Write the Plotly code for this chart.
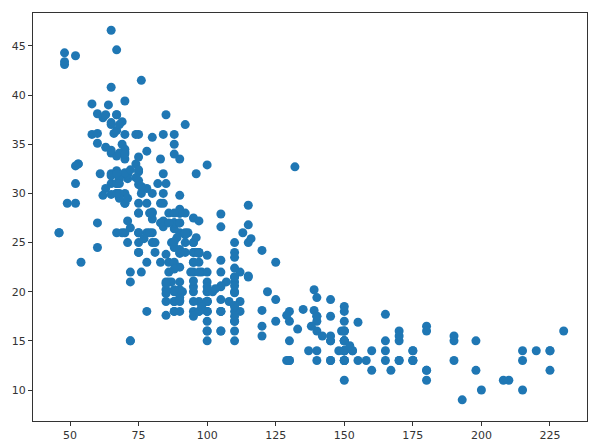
import plotly.graph_objects as go

# horsepower / mpg pairs
horsepower = [130, 165, 150, 150, 140, 198, 220, 215, 225, 190, 170, 160, 150, 225, 95, 95, 97, 85, 88, 46,
              87, 90, 95, 113, 90, 215, 200, 210, 193, 88, 90, 95, 100, 105, 100, 88, 100, 165, 175, 153,
              150, 180, 170, 175, 110, 72, 100, 88, 86, 90, 70, 76, 65, 69, 60, 70, 95, 80, 54, 90,
              86, 165, 175, 150, 153, 150, 208, 155, 160, 190, 97, 150, 130, 140, 150, 112, 76, 87, 69, 86,
              92, 97, 80, 88, 175, 150, 145, 137, 150, 198, 150, 158, 150, 215, 225, 175, 105, 100, 100, 88,
              95, 46, 150, 167, 170, 180, 100, 88, 72, 94, 90, 85, 107, 90, 145, 230, 49, 75, 91, 112,
              150, 110, 122, 180, 95, 100, 100, 67, 80, 65, 75, 100, 110, 105, 140, 150, 150, 140, 150, 83,
              67, 78, 52, 61, 75, 75, 75, 97, 93, 67, 95, 105, 72, 72, 170, 145, 150, 148, 110, 105,
              110, 95, 110, 110, 129, 75, 83, 100, 78, 96, 71, 97, 97, 70, 90, 95, 88, 98, 115, 53,
              86, 81, 92, 79, 83, 140, 150, 120, 152, 100, 105, 81, 90, 52, 60, 70, 53, 100, 78, 110,
              95, 71, 70, 75, 72, 102, 150, 88, 108, 120, 180, 145, 130, 150, 68, 80, 58, 96, 70, 145,
              110, 145, 130, 110, 105, 100, 98, 180, 170, 190, 149, 78, 88, 75, 89, 63, 83, 67, 78, 97,
              110, 110, 48, 66, 52, 70, 60, 110, 140, 139, 105, 95, 85, 88, 100, 90, 105, 85, 110, 120,
              145, 165, 139, 140, 68, 95, 97, 75, 95, 105, 85, 97, 103, 125, 115, 133, 71, 68, 115, 85,
              88, 90, 110, 130, 129, 138, 135, 155, 142, 125, 150, 71, 65, 80, 80, 77, 125, 71, 90, 70,
              70, 65, 69, 90, 115, 115, 90, 76, 60, 70, 65, 90, 88, 90, 90, 78, 90, 75, 92, 75,
              65, 105, 65, 48, 48, 67, 67, 67, 67, 62, 132, 100, 88, 72, 84, 84, 92, 110, 84, 58,
              64, 60, 67, 65, 62, 68, 63, 65, 65, 74, 75, 75, 100, 74, 80, 76, 116, 120, 110, 105,
              88, 85, 88, 88, 88, 85, 84, 90, 92, 74, 68, 68, 63, 70, 88, 75, 70, 67, 67, 67,
              110, 85, 92, 112, 96, 84, 90, 86, 52, 84, 79, 82, 100]
mpg = [18, 15, 18, 16, 17, 15, 14, 14, 14, 15, 15, 14, 15, 14, 24, 22, 18, 21, 27, 26,
       25, 24, 25, 26, 21, 10, 10, 11, 9, 27, 28, 25, 19, 16, 17, 19, 18, 14, 14, 14,
       14, 12, 13, 13, 18, 22, 19, 18, 23, 28, 30, 30, 31, 35, 27, 26, 24, 25, 23, 20,
       21, 13, 14, 15, 14, 17, 11, 13, 12, 13, 19, 15, 13, 13, 14, 18, 22, 21, 26, 22,
       28, 23, 28, 27, 13, 14, 13, 14, 15, 12, 13, 13, 14, 13, 12, 13, 18, 16, 18, 18,
       23, 26, 11, 12, 13, 12, 18, 20, 21, 22, 18, 19, 21, 26, 15, 16, 29, 24, 20, 19,
       15, 24, 20, 11, 20, 21, 19, 31, 26, 32, 25, 16, 16, 18, 16, 13, 14, 14, 14, 29,
       26, 26, 31, 32, 28, 24, 26, 24, 26, 31, 19, 18, 15, 15, 16, 15, 16, 14, 17, 16,
       15, 18, 21, 20, 13, 29, 23, 20, 23, 24, 25, 24, 18, 29, 19, 23, 23, 22, 25, 33,
       28, 25, 25, 26, 27, 17.5, 16, 15.5, 14.5, 22, 22, 24, 22.5, 29, 24.5, 29, 33, 20, 18, 18.5,
       17.5, 29.5, 32, 28, 26.5, 20, 13, 19, 19, 16.5, 16.5, 13, 13, 13, 31.5, 30, 36, 25.5, 33.5, 17.5,
       17, 15.5, 15, 17.5, 20.5, 19, 18.5, 16, 15.5, 15.5, 16, 29, 24.5, 26, 25.5, 30.5, 33.5, 30, 30.5, 22,
       21.5, 21.5, 43.1, 36.1, 32.8, 39.4, 36.1, 19.9, 19.4, 20.2, 19.2, 20.5, 20.2, 25.1, 20.5, 19.4, 20.6, 20.8, 18.6, 18.1,
       19.2, 17.7, 18.1, 17.5, 30, 27.5, 27.2, 30.9, 21.1, 23.2, 23.8, 23.9, 20.3, 17, 21.6, 16.2, 31.5, 29.5, 21.5, 19.8,
       22.3, 20.2, 20.6, 17, 17.6, 16.5, 18.2, 16.9, 15.5, 19.2, 18.5, 31.9, 34.1, 35.7, 27.4, 25.4, 23, 27.2, 23.9, 34.2,
       34.5, 31.8, 37.3, 28.4, 28.8, 26.8, 33.5, 41.5, 38.1, 32.1, 37.2, 28, 26.4, 24.3, 19.1, 34.3, 29.8, 31.3, 37, 32.2,
       46.6, 27.9, 40.8, 44.3, 43.4, 36.4, 30, 44.6, 33.8, 29.8, 32.7, 23.7, 35, 32.4, 27.2, 26.6, 25.8, 23.5, 30, 39.1,
       39, 35.1, 32.3, 37, 37.7, 34.1, 34.7, 34.4, 29.9, 33, 33.7, 32.4, 32.9, 31.6, 28.1, 30.7, 25.4, 24.2, 22.4, 26.6,
       20.2, 17.6, 28, 27, 34, 31, 29, 27, 24, 36, 37, 31, 38, 36, 36, 36, 34, 38, 32, 38,
       25, 38, 26, 22, 32, 36, 27, 27, 44, 32, 28, 31, 15]

x_ticks = [50, 75, 100, 125, 150, 175, 200, 225]
y_ticks = [10, 15, 20, 25, 30, 35, 40, 45]

fig = go.Figure(go.Scatter(x=horsepower, y=mpg, mode="markers",
                           marker=dict(color="#1f77b4", size=9, line_width=0)))

axis = dict(showgrid=False, zeroline=False, showline=True, mirror=True, linecolor="#333333", linewidth=1,
            ticks="outside", ticklen=4, tickwidth=1, tickcolor="#333333", automargin=False)
fig.update_xaxes(axis, range=[36.5, 238.5], tickvals=x_ticks)
fig.update_yaxes(axis, range=[6.85, 48.35], tickvals=y_ticks)

fig.update_layout(width=599, height=446, showlegend=False, plot_bgcolor="white", paper_bgcolor="white",
                  font=dict(family="DejaVu Sans", size=11, color="#333333"),
                  margin=dict(l=33, r=12, t=13, b=25))

# the page has a default body margin, drop it so the plot starts in the corner
fig.write_html("out.html", post_script="document.body.style.margin='0';",
               config=dict(displayModeBar=False))
